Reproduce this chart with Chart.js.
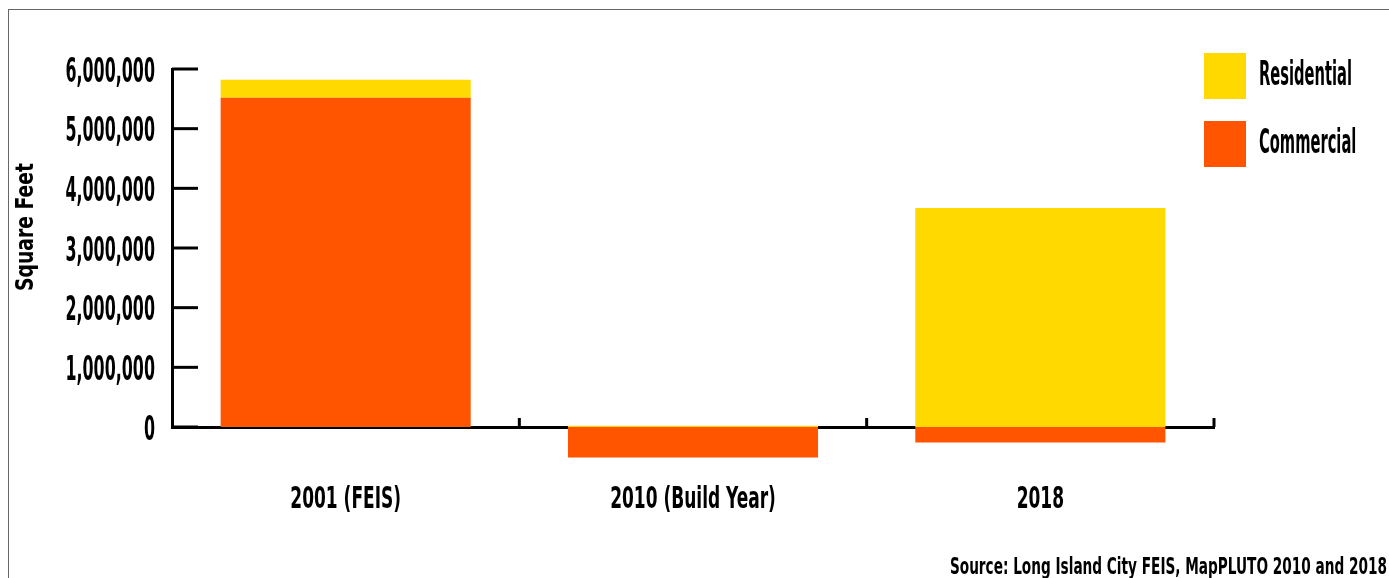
<!DOCTYPE html>
<html>
<head>
<meta charset="utf-8">
<script src="https://cdn.jsdelivr.net/npm/chart.js@4"></script>
<style>
  html, body { margin: 0; padding: 0; background: #fff; }
  body { width: 1389px; height: 578px; position: relative; overflow: hidden; }
  #frame { position: absolute; left: 8px; top: 9px; width: 1400px; height: 600px;
           border-top: 1.5px solid #666; border-left: 1.5px solid #666; }
  #wrap { position: absolute; left: 0; top: 0; width: 1389px; height: 578px; }
</style>
</head>
<body>
<div id="frame"></div>
<div id="wrap"><canvas id="chart" width="1389" height="578"></canvas></div>
<script>
var categories = ['2001 (FEIS)', '2010 (Build Year)', '2018'];
var residential = [300000, 20000, 3670000];
var commercial = [5520000, -510000, -260000];
var yMin = 0, yMax = 6000000, yStep = 1000000;
var yTitle = 'Square Feet';
var sourceText = 'Source: Long Island City FEIS, MapPLUTO 2010 and 2018';

var yellow = '#FFD900';
var orange = '#FF5500';
var fontFam = "'DejaVu Sans Condensed', 'DejaVu Sans', sans-serif";

// the original uses a very narrow face, so squeeze the text sideways
function drawText(ctx, text, x, y, size, sx, align, rot) {
  ctx.save();
  ctx.translate(x, y);
  if (rot) ctx.rotate(rot);
  ctx.scale(sx, 1);
  ctx.font = 'bold ' + size + 'px ' + fontFam;
  ctx.textAlign = align;
  ctx.textBaseline = 'alphabetic';
  ctx.fillStyle = '#000';
  ctx.fillText(text, 0, 0);
  ctx.restore();
}

var axisDecor = {
  id: 'axisDecor',
  afterDraw: function (chart) {
    var ctx = chart.ctx, a = chart.chartArea, x = chart.scales.x, y = chart.scales.y;
    ctx.save();
    ctx.strokeStyle = '#000';
    ctx.lineWidth = 3;
    // y ticks point into the plot
    y.ticks.forEach(function (t) {
      var py = y.getPixelForValue(t.value);
      ctx.beginPath(); ctx.moveTo(a.left, py); ctx.lineTo(a.left + 26, py); ctx.stroke();
    });
    // x ticks sit between categories, pointing up
    var half = (x.getPixelForValue(1) - x.getPixelForValue(0)) / 2;
    x.ticks.forEach(function (t, i) {
      var px = x.getPixelForValue(i) + half;
      ctx.beginPath(); ctx.moveTo(px, a.bottom); ctx.lineTo(px, a.bottom - 9); ctx.stroke();
    });
    ctx.restore();

    y.ticks.forEach(function (t) {
      drawText(ctx, t.value.toLocaleString('en-US'), 155, y.getPixelForValue(t.value) + 12.5, 34, 0.52, 'right');
    });
    chart.data.labels.forEach(function (lab, i) {
      drawText(ctx, lab, x.getPixelForValue(i), 508, 31, 0.61, 'center');
    });
    drawText(ctx, yTitle, 33, 227, 24, 0.87, 'center', -Math.PI / 2);

    // legend, residential on top
    chart.data.datasets.slice().reverse().forEach(function (ds, i) {
      var top = 53 + i * 68;
      ctx.fillStyle = ds.backgroundColor;
      ctx.fillRect(1204, top, 42, 46);
      drawText(ctx, ds.label, 1259, top + 32, 34, 0.48, 'left');
    });

    drawText(ctx, sourceText, 1387, 574, 23, 0.66, 'right');
  }
};

var chart = new Chart('chart', {
  type: 'bar',
  data: {
    labels: categories,
    datasets: [
      { label: 'Commercial', data: commercial, backgroundColor: orange, clip: false },
      { label: 'Residential', data: residential, backgroundColor: yellow, clip: false }
    ]
  },
  options: {
    responsive: false,
    animation: false,
    layout: { padding: { left: 0, top: 69, right: 175, bottom: 51 } },
    datasets: { bar: { categoryPercentage: 1, barPercentage: 0.72 } },
    plugins: { legend: { display: false }, tooltip: { enabled: false } },
    scales: {
      x: {
        stacked: true,
        afterFit: function (s) { s.height = 100; },
        grid: { display: false, drawTicks: false },
        border: { display: true, color: '#000', width: 3 },
        ticks: { display: false }
      },
      y: {
        stacked: true,
        min: yMin, max: yMax,
        afterFit: function (s) { s.width = 172; },
        grid: { display: false, drawTicks: false },
        border: { display: true, color: '#000', width: 3 },
        ticks: { display: false, stepSize: yStep }
      }
    }
  },
  plugins: [axisDecor]
});
</script>
</body>
</html>
